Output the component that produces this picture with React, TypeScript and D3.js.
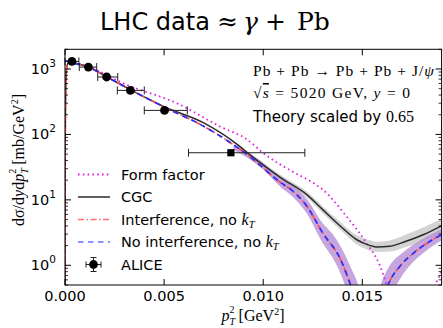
import React from 'react';
import * as d3 from 'd3';

// ---------- data ----------
const xTicks = [0, 0.005, 0.01, 0.015];
const xTickLabels = ['0.000', '0.005', '0.010', '0.015'];
const yTicks = [1, 10, 100, 1000];
const yTickExps = ['0', '1', '2', '3'];

// ALICE data
const aliceX = [0.00035, 0.00118, 0.0021, 0.0033, 0.00502, 0.00837];
const aliceY = [1306, 1070, 755, 471, 233, 52.5];
const aliceXLo = [0.0, 0.00072, 0.00165, 0.00264, 0.004, 0.00623];
const aliceXHi = [0.0007, 0.0016, 0.00266, 0.004, 0.00617, 0.0121];
const aliceYLo = [1220, 1000, 705, 440, 218, 49];
const aliceYHi = [1395, 1140, 805, 502, 248, 56];
const aliceMarker = ['o', 'o', 'o', 'o', 'o', 's'];

// Form factor
const ffX = [0, 0.0012, 0.0029, 0.0058, 0.0078, 0.0092, 0.01, 0.0116, 0.0124, 0.013, 0.0142, 0.0152, 0.0159, 0.0162, 0.0166, 0.017, 0.01747, 0.0179, 0.0183, 0.0188, 0.019];
const ffY = [1340, 1080, 611, 285, 133, 83, 52, 25.8, 19.2, 14.4, 5.6, 2.21, 0.97, 0.54, 0.25, 0.06, 0.001, 0.05, 0.25, 0.6, 0.8];

// CGC
const cgcX = [0, 0.00001, 0.00003, 0.00006, 0.0001, 0.0002, 0.0004, 0.0012, 0.0021, 0.0033, 0.005, 0.007, 0.0087, 0.0093, 0.0109, 0.0122, 0.013, 0.0139, 0.0147, 0.0153, 0.0157, 0.0164, 0.0172, 0.0181, 0.019];
const cgcY = [0.01, 60, 350, 800, 1100, 1280, 1240, 1065, 760, 483, 265, 150, 70, 49.5, 21.7, 12.0, 7.1, 3.96, 2.48, 2.05, 1.91, 1.96, 2.33, 2.95, 4.0];
const cgcBandX = [0.0087, 0.0093, 0.0109, 0.0122, 0.013, 0.0139, 0.0147, 0.0153, 0.0157, 0.0164, 0.0172, 0.0181, 0.019];
const cgcBandLo = [66, 46, 19.8, 10.8, 6.3, 3.45, 2.1, 1.72, 1.6, 1.62, 1.9, 2.35, 3.1];
const cgcBandHi = [74, 53, 23.8, 13.4, 8.0, 4.55, 2.9, 2.45, 2.3, 2.4, 2.95, 3.8, 5.2];

// No interference, no kT
const noIntX = [0, 0.0004, 0.0012, 0.0021, 0.0033, 0.005, 0.007, 0.0092, 0.0109, 0.0114, 0.0122, 0.013, 0.0139, 0.0144, 0.0147, 0.015, 0.0153, 0.0156, 0.0159, 0.0163, 0.0169, 0.0176, 0.0183, 0.019];
const noIntY = [1340, 1240, 1065, 760, 483, 262, 133, 49, 18.2, 14.4, 8.0, 3.13, 1.23, 0.51, 0.28, 0.08, 0.005, 0.03, 0.2, 0.5, 0.97, 1.55, 2.21, 2.95];

// Interference, no kT
const intX = [0, 0.00001, 0.00003, 0.00006, 0.0001, 0.0002, 0.0004, 0.0012, 0.0021, 0.0033, 0.005, 0.007, 0.0092, 0.0109, 0.0114, 0.0122, 0.013, 0.0139, 0.0144, 0.0147, 0.015, 0.0153, 0.0156, 0.0159, 0.0163, 0.0169, 0.0176, 0.0183, 0.019];
const intY = [0.01, 60, 350, 800, 1100, 1280, 1240, 1065, 760, 483, 262, 133, 49, 18.2, 14.4, 8.0, 3.13, 1.23, 0.51, 0.28, 0.08, 0.005, 0.03, 0.2, 0.5, 0.97, 1.55, 2.21, 2.95];

// no-kT uncertainty band
const noKtBandX = [0.0085, 0.0092, 0.01, 0.0109, 0.0114, 0.0122, 0.013, 0.0135, 0.0139, 0.0142, 0.0144, 0.0147, 0.015, 0.0153, 0.0156, 0.0159, 0.0163, 0.0166, 0.0169, 0.0176, 0.0183, 0.019];
const noKtBandLo = [58, 44, 29, 15.5, 11.8, 6.2, 2.2, 1.3, 0.75, 0.42, 0.25, 0.1, 0.01, 0.001, 0.001, 0.04, 0.22, 0.42, 0.62, 1.15, 1.75, 2.4];
const noKtBandHi = [68, 54, 37, 21.5, 17.5, 10.3, 4.4, 3.0, 1.95, 1.3, 0.95, 0.6, 0.3, 0.1, 0.15, 0.45, 0.9, 1.2, 1.45, 2.1, 2.8, 3.6];

const legendLabels = ['Form factor', 'CGC', 'Interference, no ', 'No interference, no ', 'ALICE'];

// ---------- layout ----------
const W = 443;
const H = 328;
const L = 65;
const R = 441.6;
const T = 49.3;
const B = 285;

const SANS = "'DejaVu Sans', sans-serif";
const SERIF = "'Liberation Serif', 'DejaVu Serif', serif";
const SERIF2 = "'DejaVu Serif', serif";

const zip = (xs: number[], ys: number[]) => xs.map((v, i) => [v, ys[i]] as [number, number]);

export default function App() {
  const x = d3.scaleLinear().domain([0, 0.019]).range([L, R]);
  const y = d3.scaleLog().domain([0.5, 2000]).range([B, T]);
  const yv = (v: number) => y(Math.max(v, 1e-5));

  const line = d3
    .line<[number, number]>()
    .x((d) => x(d[0]))
    .y((d) => yv(d[1]))
    .curve(d3.curveMonotoneX);

  const area = (xs: number[], lo: number[], hi: number[]) =>
    d3
      .area<number>()
      .x((_, i) => x(xs[i]))
      .y0((_, i) => yv(lo[i]))
      .y1((_, i) => yv(hi[i]))
      .curve(d3.curveMonotoneX)(xs) as string;

  const minorTicks: number[] = [];
  for (let e = -1; e <= 3; e++) {
    for (let k = 2; k <= 9; k++) {
      const v = k * Math.pow(10, e);
      if (v >= 0.5 && v <= 2000) minorTicks.push(v);
    }
  }

  const legendY = [174.5, 197, 219.5, 242, 264.5];
  const lx0 = 78;
  const lx1 = 110;
  const ltx = 121;

  return (
    <svg width={W} height={H} style={{ position: 'absolute', left: 0, top: 0, background: '#fff' }}>
      <defs>
        <clipPath id="plotclip">
          <rect x={L} y={T} width={R - L} height={B - T} />
        </clipPath>
      </defs>
      <rect x={0} y={0} width={W} height={H} fill="#fff" />

      {/* title */}
      <text x={100} y={30} fontFamily={SANS} fontSize={24} fill="#000">LHC data</text>
      <text y={30} fontFamily={SERIF2} fontSize={25} fill="#000">
        <tspan x={217}>≈</tspan>
        <tspan x={243} fontStyle="italic">γ</tspan>
        <tspan x={265}>+</tspan>
        <tspan x={297}>Pb</tspan>
      </text>

      <g clipPath="url(#plotclip)">
        {/* bands */}
        <path d={area(cgcBandX, cgcBandLo, cgcBandHi)} fill="#c4c4c4" opacity={0.75} />
        <path d={area(noKtBandX, noKtBandLo, noKtBandHi)} fill="#b98fd6" opacity={0.8} />

        {/* curves */}
        <path d={line(zip(ffX, ffY)) as string} fill="none" stroke="#e020e0" strokeWidth={1.8} strokeDasharray="1.6,3.2" />
        <path d={line(zip(cgcX, cgcY)) as string} fill="none" stroke="#2b2b2b" strokeWidth={1.5} />
        <path d={line(zip(intX, intY)) as string} fill="none" stroke="#ff4a4a" strokeWidth={1.6} strokeDasharray="6,2.5,1.5,2.5" />
        <path d={line(zip(noIntX, noIntY)) as string} fill="none" stroke="#2c2cff" strokeWidth={1.7} strokeDasharray="5.5,4.5" />
      </g>

      {/* ALICE points */}
      <g>
        {aliceX.map((v, i) => {
          const cx = x(v);
          const cy = y(aliceY[i]);
          const xl = x(aliceXLo[i]);
          const xh = x(aliceXHi[i]);
          const yl = y(aliceYLo[i]);
          const yh = y(aliceYHi[i]);
          return (
            <g key={i}>
              <line x1={xl} x2={xh} y1={cy} y2={cy} stroke="#222" strokeWidth={1} />
              <line x1={xl} x2={xl} y1={cy - 4} y2={cy + 4} stroke="#222" strokeWidth={1} />
              <line x1={xh} x2={xh} y1={cy - 4} y2={cy + 4} stroke="#222" strokeWidth={1} />
              <line x1={cx} x2={cx} y1={yl} y2={yh} stroke="#222" strokeWidth={1} />
              {aliceMarker[i] === 's' ? (
                <rect x={cx - 3.6} y={cy - 3.6} width={7.2} height={7.2} fill="#000" />
              ) : (
                <circle cx={cx} cy={cy} r={4.4} fill="#000" />
              )}
            </g>
          );
        })}
      </g>

      {/* frame */}
      <rect x={L} y={T} width={R - L} height={B - T} fill="none" stroke="#000" strokeWidth={1} />

      {/* x ticks */}
      {xTicks.map((v, i) => (
        <g key={'xt' + i}>
          <line x1={x(v)} x2={x(v)} y1={B} y2={B - 6} stroke="#000" />
          <line x1={x(v)} x2={x(v)} y1={T} y2={T + 6} stroke="#000" />
          <text x={x(v)} y={301} textAnchor="middle" fontFamily={SANS} fontSize={14.5} fill="#000">
            {xTickLabels[i]}
          </text>
        </g>
      ))}

      {/* y ticks */}
      {yTicks.map((v, i) => (
        <g key={'yt' + i}>
          <line x1={L} x2={L + 6} y1={y(v)} y2={y(v)} stroke="#000" />
          <line x1={R} x2={R - 6} y1={y(v)} y2={y(v)} stroke="#000" />
          <text x={56} y={y(v) + 5} textAnchor="end" fontFamily={SANS} fontSize={14.5} fill="#000">
            10<tspan dy={-7} fontSize={10.5}>{yTickExps[i]}</tspan>
          </text>
        </g>
      ))}
      {minorTicks.map((v, i) => (
        <g key={'ym' + i}>
          <line x1={L} x2={L + 3} y1={y(v)} y2={y(v)} stroke="#000" strokeWidth={0.8} />
          <line x1={R} x2={R - 3} y1={y(v)} y2={y(v)} stroke="#000" strokeWidth={0.8} />
        </g>
      ))}

      {/* axis labels */}
      <text x={253} y={321} textAnchor="middle" fontFamily={SERIF} fontSize={16} fill="#000">
        <tspan fontStyle="italic">p</tspan>
        <tspan dy={3.5} fontSize={10} fontStyle="italic">T</tspan>
        <tspan dx={-5.5} dy={-11.5} fontSize={10}>2</tspan>
        <tspan dy={8}> [GeV</tspan>
        <tspan dy={-6} fontSize={10}>2</tspan>
        <tspan dy={6}>]</tspan>
      </text>
      <text transform="translate(24,160) rotate(-90)" textAnchor="middle" fontFamily={SERIF} fontSize={16} fill="#000">
        <tspan>dσ/d</tspan>
        <tspan fontStyle="italic">y</tspan>
        <tspan>d</tspan>
        <tspan fontStyle="italic">p</tspan>
        <tspan dy={3.5} fontSize={10} fontStyle="italic">T</tspan>
        <tspan dx={-5.5} dy={-11.5} fontSize={10}>2</tspan>
        <tspan dy={8}> [mb/GeV</tspan>
        <tspan dy={-6} fontSize={10}>2</tspan>
        <tspan dy={6}>]</tspan>
      </text>

      {/* annotations */}
      <text x={253} y={76} fontFamily={SERIF} fontSize={15.5} fill="#000" textLength={181} lengthAdjust="spacing">
        Pb + Pb → Pb + Pb + J/<tspan fontStyle="italic">ψ</tspan>
      </text>
      <text x={253} y={98} fontFamily={SERIF} fontSize={15.5} fill="#000" textLength={157} lengthAdjust="spacing">
        √<tspan fontStyle="italic" style={{ textDecoration: 'overline' }}>s</tspan> = 5020 GeV, <tspan fontStyle="italic">y</tspan> = 0
      </text>
      <text x={253} y={122} fontFamily={SANS} fontSize={15} fill="#000">
        Theory scaled by <tspan fontFamily={SERIF} fontSize={16}>0.65</tspan>
      </text>

      {/* legend */}
      <g>
        <line x1={lx0} x2={lx1} y1={legendY[0]} y2={legendY[0]} stroke="#e020e0" strokeWidth={1.8} strokeDasharray="1.6,3.2" />
        <line x1={lx0} x2={lx1} y1={legendY[1]} y2={legendY[1]} stroke="#2b2b2b" strokeWidth={1.5} />
        <line x1={lx0} x2={lx1} y1={legendY[2]} y2={legendY[2]} stroke="#ff4a4a" strokeWidth={1.6} strokeDasharray="6,2.5,1.5,2.5" opacity={0.8} />
        <line x1={lx0} x2={lx1} y1={legendY[3]} y2={legendY[3]} stroke="#2c2cff" strokeWidth={1.7} strokeDasharray="5.5,4.5" opacity={0.7} />
        <line x1={86} x2={101} y1={legendY[4]} y2={legendY[4]} stroke="#222" />
        <line x1={86} x2={86} y1={legendY[4] - 3} y2={legendY[4] + 3} stroke="#222" />
        <line x1={101} x2={101} y1={legendY[4] - 3} y2={legendY[4] + 3} stroke="#222" />
        <line x1={93.5} x2={93.5} y1={legendY[4] - 7} y2={legendY[4] + 7} stroke="#222" />
        <line x1={90.5} x2={96.5} y1={legendY[4] - 7} y2={legendY[4] - 7} stroke="#222" />
        <line x1={90.5} x2={96.5} y1={legendY[4] + 7} y2={legendY[4] + 7} stroke="#222" />
        <circle cx={93.5} cy={legendY[4]} r={4.4} fill="#000" />
        {legendLabels.map((s, i) => (
          <text key={'lg' + i} x={ltx} y={legendY[i] + 5} fontFamily={SANS} fontSize={14.5} fill="#000">
            {s}
            {(i === 2 || i === 3) && (
              <>
                <tspan fontFamily={SERIF} fontStyle="italic" fontSize={16}>k</tspan>
                <tspan fontFamily={SERIF} fontStyle="italic" fontSize={10.5} dy={3}>T</tspan>
              </>
            )}
          </text>
        ))}
      </g>
    </svg>
  );
}
